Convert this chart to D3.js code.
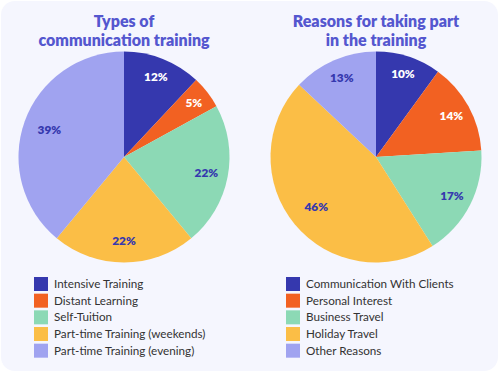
<!DOCTYPE html>
<html>
<head>
<meta charset="utf-8">
<script src="https://cdn.jsdelivr.net/npm/d3@7"></script>
<style>
  html, body { margin: 0; padding: 0; background: #ffffff; }
  svg { display: block; }
</style>
</head>
<body>
<svg id="chart" width="500" height="373"></svg>
<script>
// ---- data ----
const titleLeft = ["Types of", "communication training"];
const titleRight = ["Reasons for taking part", "in the training"];
const categoriesLeft = ["Intensive Training", "Distant Learning", "Self-Tuition", "Part-time Training (weekends)", "Part-time Training (evening)"];
const valuesLeft = [12, 5, 22, 22, 39];
const categoriesRight = ["Communication With Clients", "Personal Interest", "Business Travel", "Holiday Travel", "Other Reasons"];
const valuesRight = [10, 14, 17, 46, 13];
const colors = ["#3538ae", "#f26122", "#8cd9b5", "#fbbe46", "#a0a3f0"];
const labelColors = ["#ffffff", "#ffffff", "#3538ae", "#3538ae", "#3538ae"];

const svg = d3.select("#chart");
const W = 500, H = 373;
const font = "Lato, 'Open Sans', sans-serif";

// background card
svg.append("rect").attr("x", 1).attr("y", 1).attr("width", W - 3).attr("height", H - 3)
  .attr("rx", 14).attr("fill", "#f5f6fe");

function drawPanel(cx, title, cats, vals) {
  const cy = 157, r = 105.5;
  const g = svg.append("g");
  // title
  g.selectAll("text.title").data(title).join("text").attr("class", "title")
    .attr("text-anchor", "middle").attr("x", cx).attr("y", (d, i) => 26.5 + i * 19.5)
    .attr("font-family", font).attr("font-weight", 800).attr("font-size", 16)
    .attr("fill", "#5457cf").text(d => d);
  // pie
  const pie = d3.pie().sort(null).value(d => d);
  const arcs = pie(vals);
  const arc = d3.arc().innerRadius(0).outerRadius(r);
  const pg = g.append("g").attr("transform", `translate(${cx},${cy})`);
  pg.selectAll("path").data(arcs).join("path")
    .attr("d", arc).attr("fill", (d, i) => colors[i]);
  const total = d3.sum(vals);
  pg.selectAll("text").data(arcs).join("text")
    .attr("transform", d => {
      const frac = d.value / total;
      const lr = r * (0.85 - 0.25 * frac);
      const a = (d.startAngle + d.endAngle) / 2;
      return `translate(${Math.sin(a) * lr},${-Math.cos(a) * lr})`;
    })
    .attr("text-anchor", "middle").attr("dy", "0.35em")
    .attr("font-family", font).attr("font-weight", 800).attr("font-size", 11.8)
    .attr("fill", (d, i) => labelColors[i])
    .text(d => d.value + "%");
  // legend
  const lx = cx - 90;
  const lg = g.append("g");
  const rows = lg.selectAll("g").data(cats).join("g")
    .attr("transform", (d, i) => `translate(${lx},${277 + i * 16.67})`);
  rows.append("rect").attr("width", 14).attr("height", 14)
    .attr("fill", (d, i) => colors[i]);
  rows.append("text").attr("x", 20).attr("y", 7).attr("dy", "0.35em")
    .attr("font-family", font).attr("font-size", 11.7).attr("fill", "#333333")
    .text(d => d);
}

drawPanel(124, titleLeft, categoriesLeft, valuesLeft);
drawPanel(376, titleRight, categoriesRight, valuesRight);
</script>
</body>
</html>
